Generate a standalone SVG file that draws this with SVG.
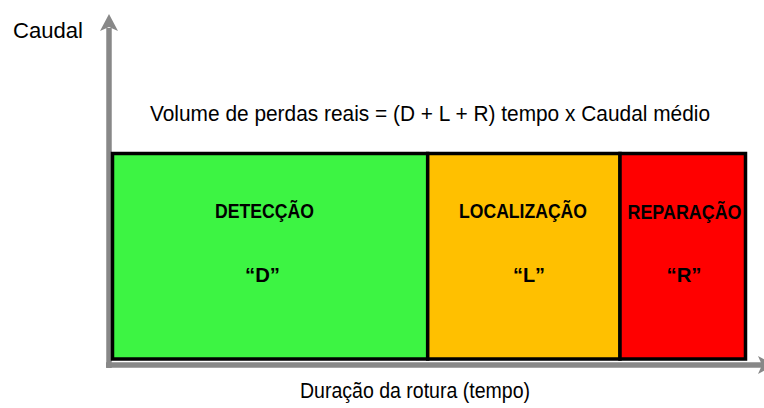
<svg xmlns="http://www.w3.org/2000/svg" width="764" height="408" viewBox="0 0 764 408">
<style>
.lbl{font-family:"Liberation Sans",Arial,sans-serif;font-size:22px;fill:#000}
.b{font-family:"Liberation Sans",Arial,sans-serif;font-size:20.5px;font-weight:bold;fill:#000}
.box{stroke:#000;stroke-width:3.5}
.axis{stroke:#888;stroke-width:5.5;fill:none}
.head{fill:#888}
</style>
<rect width="764" height="408" fill="#fff"/>
<g id="connectors">
<line class="axis" x1="109" y1="368" x2="109" y2="28"/>
<polygon class="head" points="109,14 118,31 109,27 100,31"/>
<line class="axis" x1="106" y1="365" x2="762" y2="365"/>
<polygon class="head" points="775,365 758,374 762,365 758,356"/>
</g>
<g id="node-D">
<rect class="box" x="112.5" y="153.5" width="315.2" height="205.5" fill="#3DF443"/>
<text class="b" x="215" y="218" textLength="99" lengthAdjust="spacingAndGlyphs">DETECÇÃO</text>
<text class="b" x="245" y="281.5" textLength="35" lengthAdjust="spacingAndGlyphs">“D”</text>
</g>
<g id="node-L">
<rect class="box" x="427.7" y="153.5" width="192.3" height="205.5" fill="#FFC000"/>
<text class="b" x="459" y="218" textLength="128" lengthAdjust="spacingAndGlyphs">LOCALIZAÇÃO</text>
<text class="b" x="513" y="281.5" textLength="32" lengthAdjust="spacingAndGlyphs">“L”</text>
</g>
<g id="node-R">
<rect class="box" x="620" y="153.5" width="125.5" height="205.5" fill="#FF0000"/>
<text class="b" x="627.5" y="218.5" textLength="114" lengthAdjust="spacingAndGlyphs">REPARAÇÃO</text>
<text class="b" x="666.5" y="281.5" textLength="35" lengthAdjust="spacingAndGlyphs">“R”</text>
</g>
<g id="labels">
<text class="lbl" x="13" y="37.5" textLength="70" lengthAdjust="spacingAndGlyphs">Caudal</text>
<text class="lbl" x="150" y="121" textLength="560" lengthAdjust="spacingAndGlyphs">Volume de perdas reais = (D + L + R) tempo x Caudal médio</text>
<text class="lbl" x="300" y="398" textLength="230" lengthAdjust="spacingAndGlyphs">Duração da rotura (tempo)</text>
</g>
</svg>
